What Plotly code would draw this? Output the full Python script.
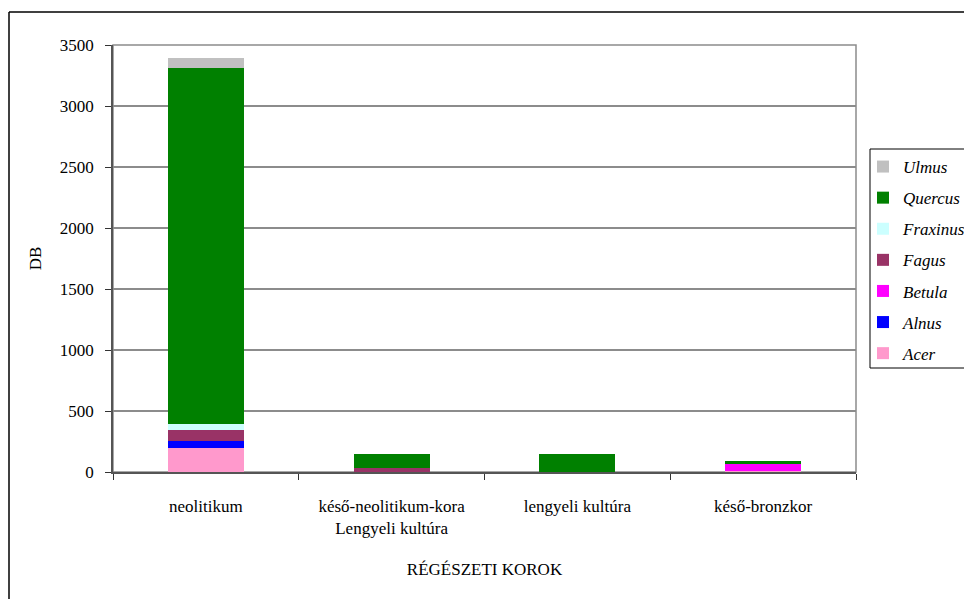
import plotly.graph_objects as go

# Periods (x categories)
periods = ["neolitikum", "késő-neolitikum-kora<br>Lengyeli kultúra", "lengyeli kultúra", "késő-bronzkor"]

# Counts per taxon (stacked from bottom to top)
acer = [200, 0, 0, 12]
alnus = [55, 0, 0, 0]
betula = [0, 0, 0, 55]
fagus = [90, 30, 0, 0]
fraxinus = [50, 0, 0, 0]
quercus = [2920, 120, 150, 22]
ulmus = [80, 0, 0, 0]

taxa = ["Acer", "Alnus", "Betula", "Fagus", "Fraxinus", "Quercus", "Ulmus"]
values = [acer, alnus, betula, fagus, fraxinus, quercus, ulmus]
colors = ["#FF99CC", "#0000FF", "#FF00FF", "#993366", "#CCFFFF", "#008000", "#C0C0C0"]

y_ticks = [0, 500, 1000, 1500, 2000, 2500, 3000, 3500]

FONT = "Liberation Serif, Times New Roman, serif"

fig = go.Figure()
n = len(taxa)
for i, (name, vals, col) in enumerate(zip(taxa, values, colors)):
    fig.add_trace(go.Bar(
        x=periods, y=vals, name=f"<i>{name}</i>",
        marker=dict(color=col, line=dict(width=0)),
        legendgroup=name,
        legendrank=n - i,  # top of the stack first in the legend
    ))

# plot-area geometry in pixels (used for frame placement)
W, H = 964, 599
L, R, T, B = 113, 108, 45, 127
pw, ph = W - L - R, H - T - B

def px_x(p):
    return (p - L) / pw

def px_y(p):
    return (H - B - p) / ph

shapes = [
    # gray frame around the plot area
    dict(type="rect", xref="paper", yref="paper", x0=0, x1=1, y0=0, y1=1,
         line=dict(color="#8c8c8c", width=1.5), layer="below"),
    # outer chart border (left and top visible)
    dict(type="line", xref="paper", yref="paper", x0=px_x(9), x1=px_x(9),
         y0=px_y(12), y1=px_y(610), line=dict(color="black", width=1.5)),
    dict(type="line", xref="paper", yref="paper", x0=px_x(9), x1=px_x(980),
         y0=px_y(12), y1=px_y(12), line=dict(color="black", width=1.5)),
    # legend box
    dict(type="rect", xref="paper", yref="paper", x0=px_x(870), x1=px_x(990),
         y0=px_y(368), y1=px_y(149), fillcolor="white",
         line=dict(color="black", width=1), layer="above"),
]

fig.update_layout(
    width=W, height=H,
    margin=dict(l=L, r=R, t=T, b=B, pad=0, autoexpand=False),
    barmode="stack",
    bargap=0.59,
    plot_bgcolor="white",
    paper_bgcolor="white",
    font=dict(family=FONT, size=17, color="black"),
    shapes=shapes,
    legend=dict(
        x=px_x(863), y=px_y(149), xanchor="left", yanchor="top",
        traceorder="grouped", tracegroupgap=6,
        borderwidth=0, bgcolor="rgba(0,0,0,0)",
        font=dict(family=FONT, size=17, color="black"),
    ),
    xaxis=dict(
        showline=True, linecolor="#555555", linewidth=1.5,
        ticks="outside", tickson="boundaries", ticklen=6, tickcolor="#333333",
        ticklabelstandoff=18,
        title=dict(text="RÉGÉSZETI KOROK", standoff=26, font=dict(size=17)),
        showgrid=False,
    ),
    yaxis=dict(
        range=[0, 3500], tickvals=y_ticks,
        showline=True, linecolor="#555555", linewidth=1.5,
        ticks="outside", ticklen=6, tickcolor="#333333",
        ticklabelstandoff=8,
        showgrid=True, gridcolor="#8c8c8c", gridwidth=1.5,
        zeroline=False,
        title=dict(text="DB", standoff=14, font=dict(size=17)),
    ),
)

fig.write_html("out.html")
